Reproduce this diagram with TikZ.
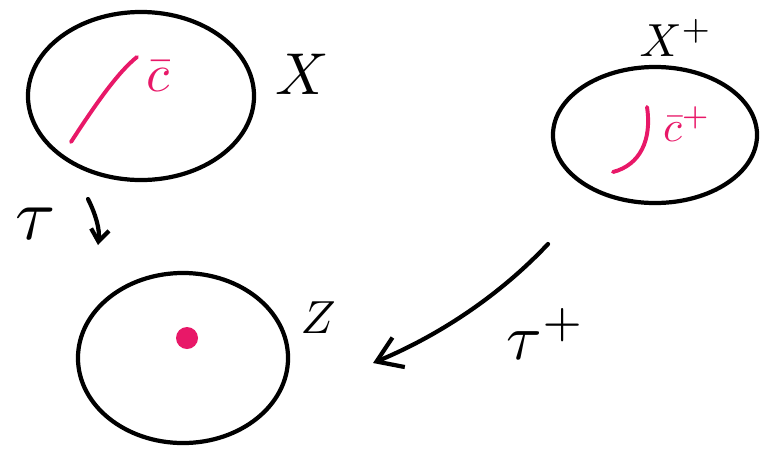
\documentclass[tikz,border=0pt]{standalone}
\usepackage{amsmath,amssymb}
\usepackage{xcolor}
\usepackage{tikz}
\usetikzlibrary{arrows.meta,shapes.geometric}

\definecolor{pinkpen}{RGB}{232,24,104}

\begin{document}
\begin{tikzpicture}[
  x=0.025cm, y=-0.025cm,
  pen/.style={line width=3pt, line cap=round, line join=round},
  blob/.style={pen, draw, ellipse, inner sep=0pt},
  pinkline/.style={pen, draw=pinkpen, line width=2.8pt},
  lbl/.style={scale=4.2, inner sep=1pt},
  zlabel/.style={scale=3.3, inner sep=1pt},
  taulabel/.style={scale=5.2, inner sep=1pt},
  tauplabel/.style={scale=4.6, inner sep=1pt},
  pinklbl/.style={scale=3.8, inner sep=1pt, text=pinkpen},
  pinkplbl/.style={scale=3.1, inner sep=1pt, text=pinkpen},
  arrow/.style={pen, -{Straight Barb[length=6mm, width=8mm, line width=3pt]}},
  smallarrow/.style={pen, -{Straight Barb[length=3mm, width=4.5mm, line width=3pt]}}
]
\useasboundingbox (0,0) rectangle (760,449);

% the three sets
\node[blob, minimum width=5.65cm, minimum height=4.2cm] (xset) at (141,96) {};
\node[blob, minimum width=5.25cm, minimum height=4.25cm] (zset) at (183,358) {};
\node[blob, minimum width=5.1cm, minimum height=3.4cm] (xplus) at (655,135) {};

% labels of the sets
\node[lbl] (xlbl) at (302,74) {$X$};
\node[zlabel] (zlbl) at (318,318) {$Z$};
\node[zlabel] (xpluslbl) at (676,38) {$X^{+}$};

% pink curves and points
\draw[pinkline] (71,142) .. controls (95,105) and (118,72) .. (137,57);
\node[pinklbl] (cbar) at (158,76) {$\bar{c}$};
\draw[pinkline] (613,172) .. controls (640,165) and (652,140) .. (647,107);
\node[pinkplbl] (cbarplus) at (687,124) {$\bar{c}^{+}$};
\node[circle, fill=pinkpen, minimum size=5.5mm, inner sep=0pt] (cpoint) at (187,338) {};

% maps
\coordinate (tau-from) at (88,199);
\coordinate (tau-to) at (98,245);
\draw[smallarrow] (tau-from) .. controls (96,215) and (100,230) .. (tau-to);
\node[taulabel] (taulbl) at (36,224) {$\tau$};

\coordinate (tauplus-from) at (548,244);
\coordinate (tauplus-to) at (373,363);
\draw[arrow] (tauplus-from) .. controls (500,295) and (440,335) .. (tauplus-to);
\node[tauplabel] (tauplbl) at (546,334) {$\tau^{+}$};
\end{tikzpicture}
\end{document}
